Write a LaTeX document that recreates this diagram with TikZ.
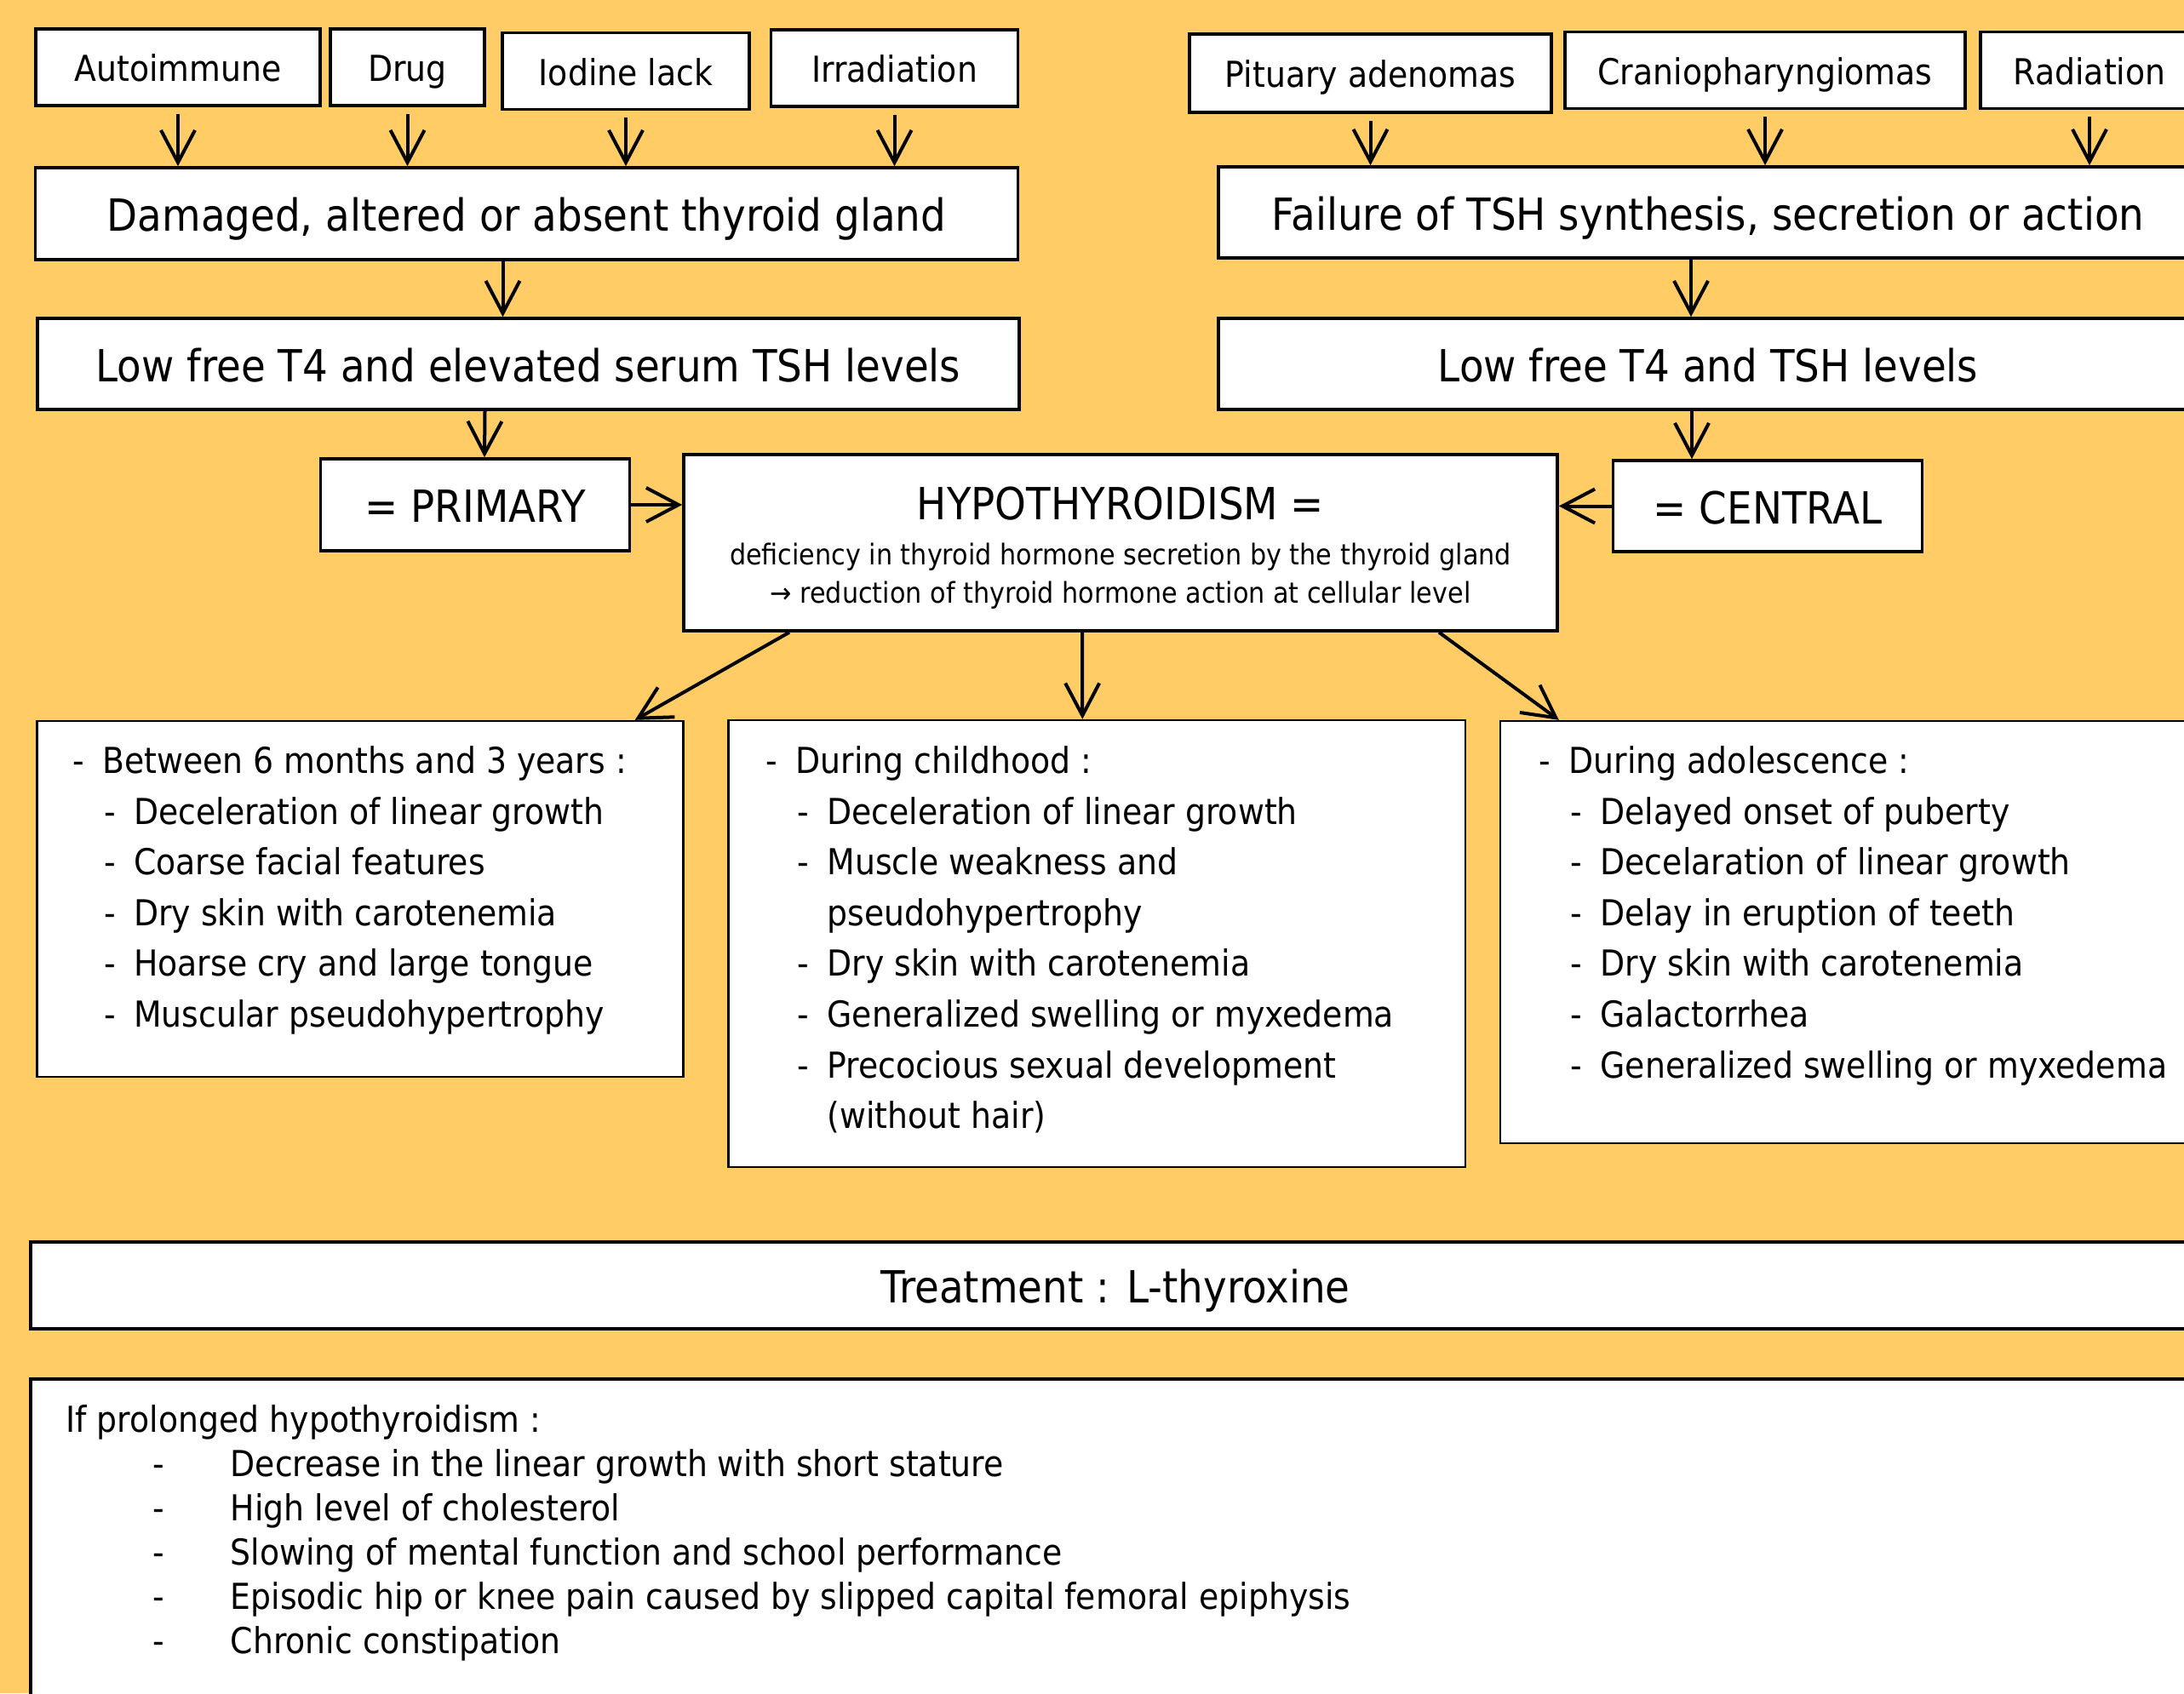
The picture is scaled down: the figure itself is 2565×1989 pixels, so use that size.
\documentclass[tikz,border=0pt]{standalone}
\usepackage{fontspec}
\setmainfont{DejaVu Sans}[FakeStretch=0.9]
\usetikzlibrary{arrows.meta,calc}
\definecolor{slidebg}{HTML}{FFCC66}
\newcommand{\lvlone}[1]{\makebox[8.75pt][l]{-}#1}
\newcommand{\lvltwo}[1]{\hspace*{9.25pt}\makebox[8.75pt][l]{-}#1}
\newcommand{\lvlcont}[1]{\hspace*{18pt}#1}
\newcommand{\btmitem}[1]{\hspace*{25.4pt}\makebox[22.9pt][l]{-}#1}

\begin{document}
\begin{tikzpicture}[x=0.25pt,y=-0.25pt]
\tikzstyle{box}=[draw,fill=white,line width=0.9pt,inner sep=0pt]
\tikzstyle{cause}=[box,font=\fontsize{10.5}{12.6}\selectfont,text height=10.5pt,text depth=2.1pt,minimum height=22.5pt]
\tikzstyle{stage}=[box,font=\fontsize{13}{15.6}\selectfont,text height=13pt,text depth=2.6pt,minimum height=27pt]
\tikzstyle{listbox}=[box,line width=0.6pt]
\tikzstyle{listtext}=[inner sep=0pt,anchor=north west,align=left,font=\fontsize{10.5}{14.9}\selectfont]
\tikzstyle{arr}=[-{Straight Barb[length=9.5pt,width=10pt]},line width=1pt]

\useasboundingbox (0,0) rectangle (2565,1989);
\clip (0,0) rectangle (2565,1989);
\fill[slidebg] (0,0) rectangle (2565,1989);

% causes
\node[cause,minimum width=83.5pt] (auto) at (209,79) {Autoimmune};
\node[cause,minimum width=45.25pt] (drug) at (478.5,79) {Drug};
\node[cause,minimum width=72.5pt] (iodine) at (735,83.5) {Iodine lack};
\node[cause,minimum width=72.5pt] (irrad) at (1050.5,80) {Irradiation};
\node[cause,minimum width=106.25pt,minimum height=23pt] (pit) at (1609.5,86) {Pituary adenomas};
\node[cause,minimum width=117.6pt] (cranio) at (2073,82.5) {Craniopharyngiomas};
\node[cause,minimum width=64pt] (radio) at (2454,82.5) {Radiation};

% stages
\node[stage,minimum width=288.5pt] (damaged) at (618.5,251) {Damaged, altered or absent thyroid gland};
\node[stage,minimum width=288.25pt,minimum height=26.75pt] (lowprim) at (620.5,427.5) {Low free T4 and elevated serum TSH levels};
\node[stage,minimum width=287.5pt,minimum height=26.75pt] (failure) at (2006,249.5) {Failure of TSH synthesis, secretion or action};
\node[stage,minimum width=287.5pt,minimum height=26.75pt] (lowcent) at (2006,427.5) {Low free T4 and TSH levels};
\node[stage,minimum width=90.75pt] (primary) at (558,593) {= PRIMARY};
\node[stage,minimum width=90.75pt,minimum height=26.75pt] (central) at (2076,594.5) {= CENTRAL};
\node[box,minimum width=256.5pt,minimum height=51.75pt,align=center,font=\fontsize{8.4}{11.25}\selectfont] (hypo) at (1316,637.5)
  {\rule{0pt}{12.75pt}{\fontsize{13}{15.6}\selectfont HYPOTHYROIDISM =}\\[2pt]
   deficiency in thyroid hormone secretion by the thyroid gland\\
   → reduction of thyroid hormone action at cellular level};

% age boxes
\node[listbox,minimum width=189.75pt,minimum height=104.5pt] (early) at (423,1056) {};
\node[listbox,minimum width=216.4pt,minimum height=131.25pt] (child) at (1288.25,1108.5) {};
\node[listbox,minimum width=209.5pt,minimum height=124pt] (adol) at (2181,1095) {};

\node[listtext] (earlytxt) at ($(early.north west)+(42,30)$) {%
\lvlone{Between 6 months and 3 years :}\\
\lvltwo{Deceleration of linear growth}\\
\lvltwo{Coarse facial features}\\
\lvltwo{Dry skin with carotenemia}\\
\lvltwo{Hoarse cry and large tongue}\\
\lvltwo{Muscular pseudohypertrophy}};
\node[listtext] (childtxt) at ($(child.north west)+(44.5,31)$) {%
\lvlone{During childhood :}\\
\lvltwo{Deceleration of linear growth}\\
\lvltwo{Muscle weakness and}\\
\lvlcont{pseudohypertrophy}\\
\lvltwo{Dry skin with carotenemia}\\
\lvltwo{Generalized swelling or myxedema}\\
\lvltwo{Precocious sexual development}\\
\lvlcont{(without hair)}};
\node[listtext] (adoltxt) at ($(adol.north west)+(46,30)$) {%
\lvlone{During adolescence :}\\
\lvltwo{Delayed onset of puberty}\\
\lvltwo{Decelaration of linear growth}\\
\lvltwo{Delay in eruption of teeth}\\
\lvltwo{Dry skin with carotenemia}\\
\lvltwo{Galactorrhea}\\
\lvltwo{Generalized swelling or myxedema}};

% treatment
\node[stage,minimum width=637pt,minimum height=25.5pt] (treat) at (1310,1510) {Treatment : L-thyroxine};
\node[listbox,line width=0.9pt,minimum width=637pt,minimum height=97.5pt] (prolong) at (1310,1815) {};
\node[listtext,font=\fontsize{10.5}{13}\selectfont] (prolongtxt) at ($(prolong.north west)+(42.5,32)$) {%
If prolonged hypothyroidism :\\
\btmitem{Decrease in the linear growth with short stature}\\
\btmitem{High level of cholesterol}\\
\btmitem{Slowing of mental function and school performance}\\
\btmitem{Episodic hip or knee pain caused by slipped capital femoral epiphysis}\\
\btmitem{Chronic constipation}};

% arrows
\foreach \n in {auto,drug,iodine,irrad}
  \draw[arr] ([yshift=-2pt]\n.south) -- (\n.south |- damaged.north);
\foreach \n in {pit,cranio,radio}
  \draw[arr] ([yshift=-2pt]\n.south) -- (\n.south |- failure.north);
\draw[arr] ($(damaged.south)+(-28,0)$) -- ($(lowprim.north)+(-30,0)$);
\draw[arr] ($(lowprim.south)+(-51,0)$) -- ($(primary.north)+(11,0)$);
\draw[arr] ($(failure.south)+(-20,0)$) -- ($(lowcent.north)+(-20,0)$);
\draw[arr] ($(lowcent.south)+(-19,0)$) -- ($(central.north)+(-89,0)$);
\draw[arr] (primary.east) -- (hypo.west |- primary.east);
\draw[arr] (central.west) -- (hypo.east |- central.west);
\draw[arr] ($(hypo.south)+(-389,0)$) -- ($(early.north east)+(-58,0)$);
\draw[arr] ($(hypo.south)+(-45,0)$) -- ($(child.north)+(-17,0)$);
\draw[arr] ($(hypo.south)+(374,0)$) -- ($(adol.north west)+(70,0)$);
\end{tikzpicture}
\end{document}
